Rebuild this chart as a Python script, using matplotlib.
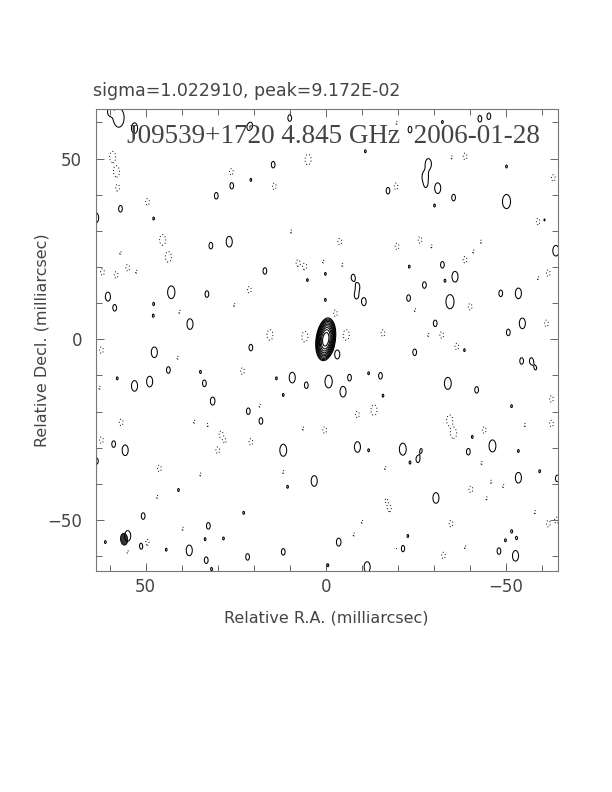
import matplotlib
matplotlib.use('Agg')
import matplotlib.pyplot as plt
import numpy as np
from matplotlib.patches import Ellipse
from matplotlib.ticker import MultipleLocator

# ------------------------------------------------------------
# Map values (milliarcsec, mJy/beam)
# ------------------------------------------------------------
peak = 91.72          # 9.172E-02 Jy/beam
base = 0.09           # lowest contour
n_levels = 10         # base * 2**k

# core: position, sigma along RA / Dec, tilt (deg)
core_ra, core_dec = 0.0, 0.0
core_sx, core_sy, core_pa = 0.72, 1.6, -8.0

# restoring beam (FWHM, mas)
beam_min, beam_maj, beam_pa = 2.0, 3.3, -5.0

# noise blob shape (sigma, mas)
blob_sx, blob_sy = 0.6, 1.05

# positive islands: RA, Dec, strength in units of the lowest contour
pos_ra = [57.5, 60.0, 53.1, 20.7, 26.1, 20.8, 30.4, 57.0, 47.8, 63.9,
          31.9, 26.8, 42.9, 60.5, 33.0, 58.6, 47.8, 47.9, 37.7, 10.0,
          14.6, -17.3, 16.9, 5.1, 0.1, -7.6, -8.9, -8.5, -10.6, 0.1,
          -11.0, -42.8, -45.3, -32.4, -23.4, -28.5, -27.6, -27.8, -31.1, -35.5,
          -30.2, -50.2, -50.2, -60.7, -63.9, -23.2, -32.4, -35.9, -33.1, -27.4,
          -23.0, -34.5, -48.6, -53.5, -30.4, -54.6, -50.7, 47.6, 20.8, 43.7,
          34.8, 57.9, 53.1, 48.9, 33.7, 31.4, 21.5, 58.9, 55.7, 63.7,
          40.9, 50.7, 22.8, 32.6, 55.0, 61.2, 51.2, 33.5, 28.4, 37.9,
          44.3, 33.2, 21.7, 31.7, -3.2, 9.3, 5.4, -0.8, -4.8, -6.6,
          -11.9, -15.2, 11.8, -15.9, 18.0, 13.7, 11.8, -8.8, -11.9, -21.4,
          3.2, 10.6, -3.6, 11.8, -21.4, -0.6, -11.5, -24.7, -38.5, -54.4,
          -57.1, -58.3, -33.9, -41.9, -51.6, -40.7, -46.3, -39.6, -26.5, -25.6,
          -23.4, -53.5, -59.4, -53.5, -64.3, -30.6, -51.6, -53.0, -49.9, -48.1,
          -52.7, -22.8, 21.5]
pos_dec = [61.3, 63.0, 58.4, 59.2, 42.5, 44.1, 39.7, 36.1, 33.4, 33.6,
           25.9, 27.0, 13.0, 11.8, 12.5, 8.7, 9.8, 6.5, 4.2, 61.2,
           48.3, 41.1, 18.9, 16.4, 18.1, 17.1, 14.6, 12.1, 10.4, 10.9,
           52.0, 61.0, 61.7, 60.1, 58.0, 48.5, 45.0, 42.7, 41.8, 39.2,
           37.0, 47.8, 38.1, 33.0, 24.5, 20.1, 20.6, 17.3, 16.2, 15.0,
           11.4, 10.4, 12.7, 12.7, 4.4, 4.4, 1.9, -3.6, -2.3, -8.5,
           -9.0, -10.8, -12.9, -11.7, -12.2, -17.1, -19.9, -29.0, -30.7, -33.7,
           -41.7, -48.9, -48.0, -51.6, -54.4, -56.1, -57.2, -55.3, -55.1, -58.4,
           -58.2, -61.1, -60.2, -63.6, -4.2, -10.6, -12.7, -11.7, -14.5, -10.6,
           -9.4, -10.1, -15.4, -15.6, -22.6, -10.8, -30.7, -29.8, -30.7, -30.4,
           -39.2, -40.8, -56.1, -58.8, -57.9, -62.5, -63.0, -3.6, -3.0, -6.0,
           -6.0, -8.0, -12.2, -14.0, -18.5, -27.0, -29.5, -31.1, -30.7, -33.2,
           -34.1, -30.9, -36.5, -38.3, -38.5, -43.9, -53.1, -55.0, -55.6, -58.6,
           -59.9, -54.4, 58.6]
pos_amp = [4.0, 1.35, 1.8, 1.08, 1.35, 1.08, 1.35, 1.35, 1.08, 1.8,
           1.35, 1.8, 2.2, 1.6, 1.35, 1.35, 1.08, 1.08, 1.8, 1.35,
           1.35, 1.35, 1.35, 1.08, 1.08, 1.35, 1.35, 1.35, 1.5, 1.08,
           1.08, 1.35, 1.35, 1.08, 1.35, 1.8, 1.8, 1.08, 1.8, 1.35,
           1.08, 1.08, 2.6, 1.08, 1.8, 1.08, 1.35, 1.8, 1.08, 1.35,
           1.35, 2.6, 1.35, 1.8, 1.35, 1.8, 1.35, 1.8, 1.35, 1.35,
           1.08, 1.08, 1.8, 1.8, 1.35, 1.5, 1.35, 1.35, 1.8, 1.35,
           1.08, 1.35, 1.08, 1.35, 1.8, 1.08, 1.35, 1.08, 1.08, 1.8,
           1.08, 1.35, 1.35, 1.08, 1.6, 1.8, 1.35, 2.2, 1.8, 1.35,
           1.08, 1.35, 1.08, 1.08, 1.35, 1.08, 2.0, 1.8, 1.08, 2.0,
           1.8, 1.08, 1.5, 1.35, 1.35, 1.08, 1.8, 1.35, 1.08, 1.35,
           1.35, 1.08, 2.0, 1.35, 1.08, 1.08, 2.0, 1.35, 1.08, 1.35,
           1.08, 1.08, 1.08, 1.8, 1.35, 1.8, 1.08, 1.08, 1.08, 1.35,
           1.8, 1.08, 1.08]

# negative islands (dotted): RA, Dec, depth in units of the lowest contour
neg_ra = [59.2, 58.1, 57.8, 26.2, 49.5, 45.3, 43.7, 57.0, 62.0, 58.2,
          55.0, 52.6, 21.2, 25.4, 40.6, 4.9, 14.3, -19.5, -17.7, 9.6,
          -3.9, 7.7, 5.8, 0.7, -4.6, -19.8, -2.7, 15.5, 5.8, -5.7,
          -15.9, -38.7, -35.0, -63.2, -59.0, -26.2, -29.4, -38.7, -41.0, -43.1,
          -61.8, -59.0, -40.1, -24.8, -61.3, -32.2, -28.5, 62.3, 41.1, 23.1,
          62.8, 56.8, 36.5, 32.8, 29.1, 28.0, 30.0, 62.3, 20.8, 46.2,
          34.8, 46.8, 39.7, 49.6, 55.0, 18.3, -8.8, -13.4, 0.3, 6.3,
          11.8, -16.5, -17.7, -16.8, -10.1, -7.8, -19.8, -36.4, -62.7, -34.4,
          -35.5, -44.0, -55.3, -62.7, -43.3, -45.9, -49.3, -40.3, -44.7, -58.1,
          -61.8, -64.1, -34.8, -38.7, -32.7, -19.7]
neg_dec = [50.5, 46.4, 41.9, 46.3, 38.0, 27.5, 22.8, 23.9, 18.6, 17.8,
           19.8, 18.7, 13.7, 9.5, 7.6, 49.7, 42.3, 42.3, 57.1, 29.8,
           27.0, 21.1, 20.1, 21.5, 20.6, 25.7, 7.2, 1.2, 0.7, 1.2,
           1.7, 50.6, 50.3, 44.6, 32.6, 27.5, 25.7, 22.0, 24.3, 27.0,
           18.3, 16.9, 9.0, 8.1, 4.4, 1.2, 1.2, -3.0, -5.1, -8.8,
           -13.4, -23.0, -22.8, -23.7, -26.3, -28.2, -30.7, -27.9, -28.4, -35.7,
           -37.4, -43.6, -52.4, -56.2, -58.8, -18.4, -20.8, -19.6, -25.1, -24.7,
           -36.7, -35.6, -46.8, -44.5, -50.5, -54.0, -57.9, -2.0, -16.5, -22.4,
           -26.0, -25.1, -23.7, -23.3, -34.2, -39.4, -40.6, -41.5, -44.0, -47.8,
           -51.0, -50.1, -51.0, -57.5, -59.8, 59.9]
neg_amp = [1.8, 1.8, 1.35, 1.35, 1.35, 1.8, 1.8, 1.08, 1.35, 1.35,
           1.35, 1.08, 1.35, 1.08, 1.08, 1.8, 1.35, 1.35, 1.08, 1.08,
           1.35, 1.35, 1.35, 1.08, 1.08, 1.35, 1.35, 1.8, 1.8, 1.8,
           1.35, 1.35, 1.08, 1.35, 1.35, 1.35, 1.08, 1.35, 1.08, 1.08,
           1.35, 1.08, 1.35, 1.08, 1.35, 1.35, 1.08, 1.35, 1.08, 1.35,
           1.08, 1.35, 1.08, 1.08, 1.35, 1.08, 1.35, 1.35, 1.35, 1.35,
           1.08, 1.08, 1.08, 1.35, 1.08, 1.08, 1.35, 1.8, 1.35, 1.08,
           1.08, 1.08, 1.35, 1.08, 1.08, 1.08, 1.08, 1.35, 1.35, 1.8,
           1.8, 1.35, 1.08, 1.35, 1.08, 1.08, 1.08, 1.35, 1.08, 1.08,
           1.35, 1.35, 1.35, 1.08, 1.35, 1.08]

ra_lim = (63.8, -64.5)
dec_lim = (-64.1, 63.7)

title = 'J09539+1720 4.845 GHz  2006-01-28'
header = 'sigma=1.022910, peak=9.172E-02'
xlabel = 'Relative R.A. (milliarcsec)'
ylabel = 'Relative Decl. (milliarcsec)'

# ------------------------------------------------------------
# Build the map
# ------------------------------------------------------------
ra = np.linspace(ra_lim[0], ra_lim[1], 1100)
dec = np.linspace(dec_lim[0], dec_lim[1], 1100)
RA, DEC = np.meshgrid(ra, dec)


def gauss(x0, y0, amp, sx, sy, pa=0.0):
    t = np.deg2rad(pa)
    dx = RA - x0
    dy = DEC - y0
    u = dx * np.cos(t) - dy * np.sin(t)
    v = dx * np.sin(t) + dy * np.cos(t)
    return amp * np.exp(-0.5 * ((u / sx) ** 2 + (v / sy) ** 2))


def island(x0, y0, a):
    # strong islands are drawn broader but stay below the 2nd contour
    w = 1.0 + 0.4 * (a - 1.08)
    return gauss(x0, y0, min(a, 1.95) * base, blob_sx * w, blob_sy * w)


img = gauss(core_ra, core_dec, peak, core_sx, core_sy, core_pa)
for x0, y0, a in zip(pos_ra, pos_dec, pos_amp):
    img += island(x0, y0, a)
for x0, y0, a in zip(neg_ra, neg_dec, neg_amp):
    img -= island(x0, y0, a)

levels = base * 2.0 ** np.arange(n_levels)

# ------------------------------------------------------------
# Plot
# ------------------------------------------------------------
text_col = '#444444'
fig = plt.figure(figsize=(6.12, 7.92), dpi=100)
ax = fig.add_axes([96 / 612, 1 - 571 / 792, 462 / 612, 462 / 792])

ax.contour(RA, DEC, img, levels=[-base], colors='black',
           linewidths=0.7, linestyles=[(0, (1, 2.4))])
ax.contour(RA, DEC, img, levels=levels, colors='black',
           linewidths=0.75, linestyles='solid')

# restoring beam, lower left corner
beam = Ellipse((ra_lim[0] - 7.8, dec_lim[0] + 8.8), beam_min, beam_maj,
               angle=beam_pa, facecolor='#333333', edgecolor='black', lw=0.6)
ax.add_patch(beam)

ax.set_xlim(ra_lim)
ax.set_ylim(dec_lim)
ax.set_aspect('auto')

ax.xaxis.set_major_locator(MultipleLocator(50))
ax.xaxis.set_minor_locator(MultipleLocator(10))
ax.yaxis.set_major_locator(MultipleLocator(50))
ax.yaxis.set_minor_locator(MultipleLocator(10))
ax.tick_params(which='both', direction='in', top=True, right=True,
               color='#666666', width=0.7, labelcolor=text_col, labelsize=12)
ax.tick_params(which='major', length=6)
ax.tick_params(which='minor', length=4)
ax.tick_params(axis='x', pad=5)
ax.tick_params(axis='y', pad=10)
for s in ax.spines.values():
    s.set_color('#777777')
    s.set_linewidth(0.8)

ax.text(0.513, 0.94, title, transform=ax.transAxes, ha='center', va='center',
        fontsize=19.5, family='Liberation Serif', color=text_col)

fig.text(93 / 612, 1 - 91 / 792, header, ha='left', va='center',
         fontsize=12.5, color=text_col)
fig.text(326 / 612, 1 - 618 / 792, xlabel, ha='center', va='center',
         fontsize=11.5, color=text_col)
fig.text(42 / 612, 1 - 340 / 792, ylabel, ha='center', va='center',
         rotation=90, fontsize=11.5, color=text_col)

fig.savefig('out.png', dpi=100)
